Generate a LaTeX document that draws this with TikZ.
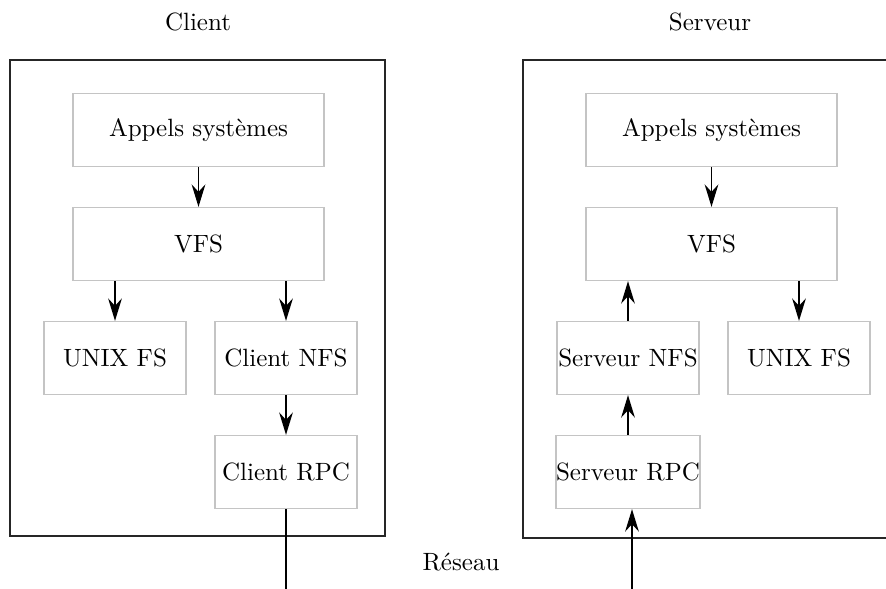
\documentclass[tikz,border=0pt]{standalone}
\usepackage{tikz}
\usetikzlibrary{arrows.meta, positioning}
\definecolor{boxGray}{HTML}{C4C4C4}
\tikzset{
  arrowK/.style={-{Stealth[length=9pt, width=5.5pt, inset=3pt]}, black, line width=0.6pt},
  hostBox/.style={draw=black!85, line width=0.6pt},
  layerBox/.style={rectangle, draw=boxGray, line width=0.5pt, align=center,
                   inner sep=0pt, minimum width=56.8pt, minimum height=29.2pt},
  wideBox/.style={layerBox, minimum width=100.4pt},
}
\begin{document}
\begin{tikzpicture}[x=0.4pt, y=-0.4pt]
    \useasboundingbox (0,0) rectangle (886,588);
    % machines
    \draw[hostBox] (10,60) rectangle (385,536);
    \draw[hostBox] (523,60) rectangle (898,538);
    \node (lblC) at (198,22) {Client};
    \node (lblS) at (710,22) {Serveur};
    \node (lblN) at (461,562) {Réseau};
    % client side
    \node[wideBox] (appC) at (198.5,130) {Appels systèmes};
    \node[wideBox] (vfsC) at (198.5,244) {VFS};
    \node[layerBox] (unixC) at (115,358) {UNIX FS};
    \node[layerBox] (nfsC) at (286,358) {Client NFS};
    \node[layerBox] (rpcC) at (286,472) {Client RPC};
    \coordinate (netC) at (286,600);
    % server side
    \node[wideBox] (appS) at (711.5,130) {Appels systèmes};
    \node[wideBox] (vfsS) at (711.5,244) {VFS};
    \node[layerBox] (nfsS) at (628,358) {Serveur NFS};
    \node[layerBox] (unixS) at (799,358) {UNIX FS};
    \node[layerBox] (rpcS) at (628,472) {Serveur RPC};
    \coordinate (netS) at (632,600);
    % arrows
    \draw[arrowK] (appC) -- (vfsC);
    \draw[arrowK] (unixC.north |- vfsC.south) -- (unixC.north);
    \draw[arrowK] (nfsC.north |- vfsC.south) -- (nfsC.north);
    \draw[arrowK] (nfsC) -- (rpcC);
    \draw[black, line width=0.6pt] (rpcC.south) -- (netC);
    \draw[arrowK] (appS) -- (vfsS);
    \draw[arrowK] (unixS.north |- vfsS.south) -- (unixS.north);
    \draw[arrowK] (nfsS.north) -- (nfsS.north |- vfsS.south);
    \draw[arrowK] (rpcS) -- (nfsS);
    \draw[arrowK] (netS) -- (netS |- rpcS.south);
  \end{tikzpicture}
\end{document}
